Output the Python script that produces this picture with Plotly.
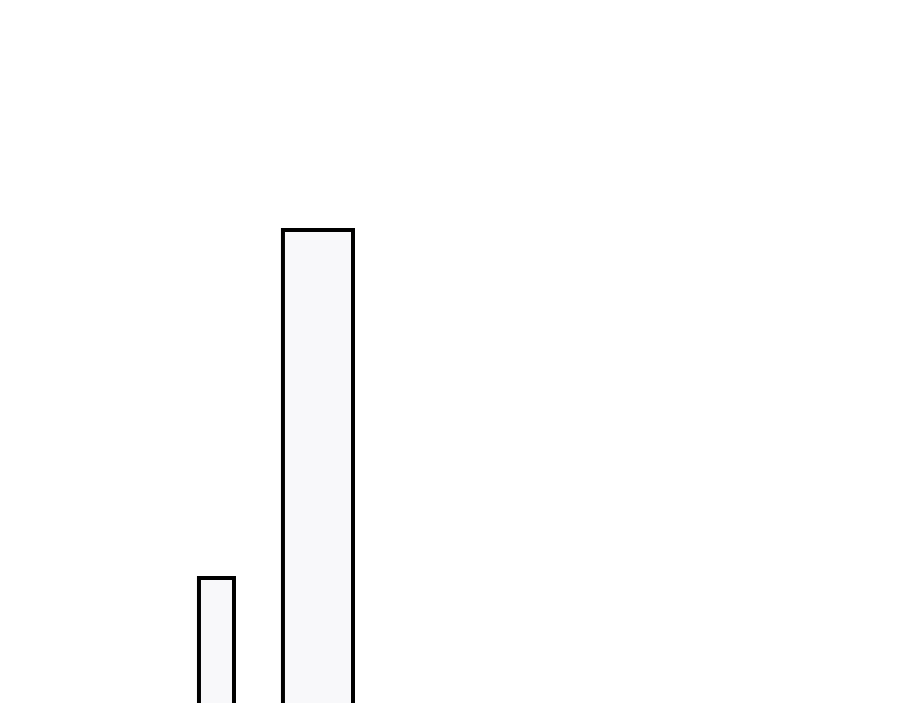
#!/usr/bin/env python3
"""
Two outlined bars, cropped view (axes hidden, bars run off the bottom edge)
"""

import plotly.graph_objects as go

# Data
CATEGORIES = [0, 1]
VALUES = [3, 10]
BAR_WIDTHS = [0.345, 0.69]

FILL = '#f8f8fa'
OUTLINE = '#000000'


def create_chart():
    fig = go.Figure()

    fig.add_trace(go.Bar(
        x=CATEGORIES, y=VALUES,
        width=BAR_WIDTHS,
        marker=dict(color=FILL, line=dict(color=OUTLINE, width=4)),
        showlegend=False, hoverinfo='skip'
    ))

    # page body keeps its default 8px margin, so ranges are shifted to match
    fig.update_layout(
        xaxis=dict(visible=False, range=[-2.054, 6.813], fixedrange=True),
        yaxis=dict(visible=False, range=[0.324, 14.466], fixedrange=True),
        plot_bgcolor='white',
        paper_bgcolor='white',
        width=900, height=703,
        margin=dict(t=0, b=0, l=0, r=0),
    )
    return fig


def main():
    fig = create_chart()
    fig.write_html("out.html", config={'displayModeBar': False})


if __name__ == '__main__':
    main()
